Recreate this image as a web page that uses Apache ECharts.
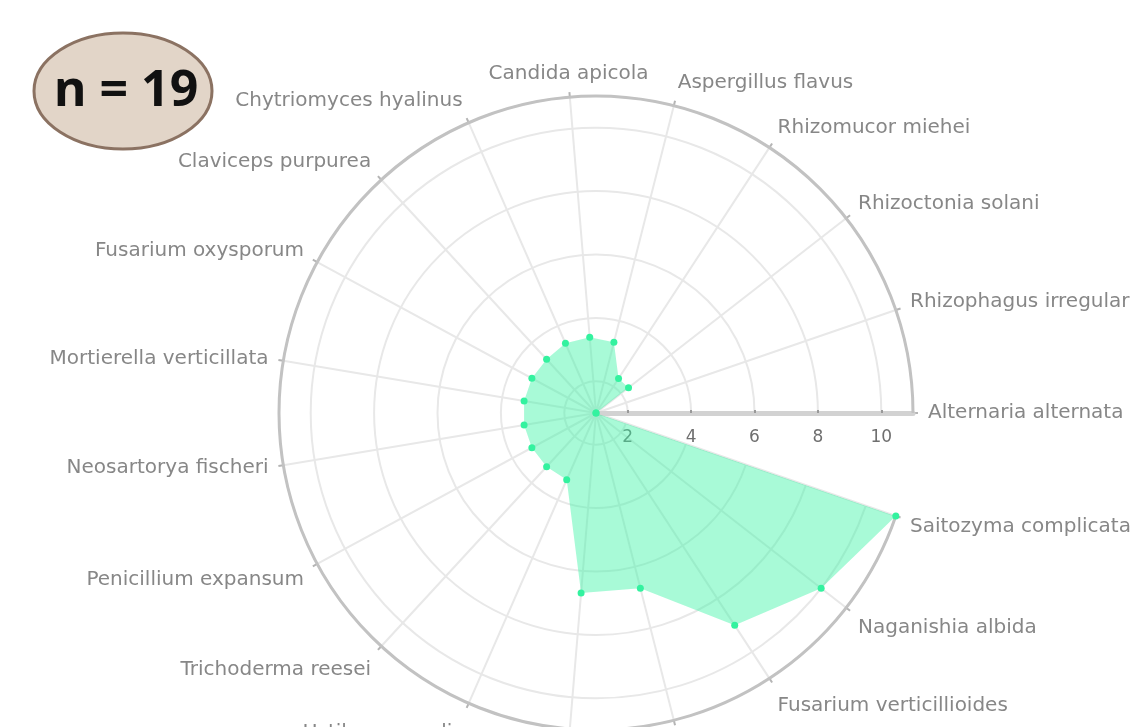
<!DOCTYPE html>
<html>
<head>
<meta charset="utf-8">
<title>Polar profile</title>
<script src="https://cdn.jsdelivr.net/npm/echarts@6/dist/echarts.min.js"></script>
<style>
  html, body { margin: 0; padding: 0; background: #ffffff; }
  #chart { width: 1130px; height: 727px; }
</style>
</head>
<body>
<div id="chart"></div>
<script>
// Species placed counter-clockwise around the circle, starting at 3 o'clock
const species = [
  'Alternaria alternata',
  'Rhizophagus irregularis',
  'Rhizoctonia solani',
  'Rhizomucor miehei',
  'Aspergillus flavus',
  'Candida apicola',
  'Chytriomyces hyalinus',
  'Claviceps purpurea',
  'Fusarium oxysporum',
  'Mortierella verticillata',
  'Neosartorya fischeri',
  'Penicillium expansum',
  'Trichoderma reesei',
  'Ustilago maydis',
  'Verticillium dahliae',
  'Yarrowia lipolytica',
  'Fusarium verticillioides',
  'Naganishia albida',
  'Saitozyma complicata'
];

// Score per species
const scores = [1, 1, 2.3, 2.3, 3.3, 3.4, 3.4, 3.3, 3.3, 3.3, 3.3, 3.3, 3.3, 3.3, 6.7, 6.7, 9, 10, 11];

// Sample count shown in the badge
const sampleCount = 19;

// Labels that start at their spoke instead of being centred on it
const leftStartLabels = ['Aspergillus flavus'];

const labelFont = 'DejaVu Sans';
const labelSize = 20;

// Width of a label in the axis font
function textWidth(str) {
  const ctx = document.createElement('canvas').getContext('2d');
  ctx.font = labelSize + 'px "' + labelFont + '"';
  return Math.ceil(ctx.measureText(str).width);
}

// One rich style per label: the line height eases each label towards its spoke
// the closer the spoke is to vertical, and a left pad makes chosen labels start at the spoke.
const richStyles = {};
species.forEach(function (name, i) {
  const theta = i * 2 * Math.PI / species.length;
  const s = Math.sin(theta);
  const style = {};
  if (Math.abs(s) >= 0.3) {
    style.lineHeight = Math.max(4, Math.round((s > 0 ? 17 : 35) * Math.abs(s)));
  }
  if (leftStartLabels.indexOf(name) >= 0) {
    style.padding = [0, 0, 0, textWidth(name)];
  }
  richStyles['c' + i] = style;
});

const chart = echarts.init(document.getElementById('chart'), null, { renderer: 'canvas' });

chart.setOption({
  backgroundColor: '#ffffff',
  animation: false,
  polar: {
    center: [596, 413],
    radius: 317
  },
  angleAxis: {
    type: 'category',
    data: species,
    startAngle: 0,
    clockwise: false,
    boundaryGap: false,
    axisLine: { show: true, lineStyle: { color: '#c2c2c2', width: 3 } },
    axisTick: { show: true, interval: 0, length: 5, lineStyle: { color: '#b5b5b5', width: 2 } },
    axisLabel: {
      show: true,
      interval: 0,
      hideOverlap: false,
      margin: 15,
      color: '#878787',
      fontSize: labelSize,
      fontFamily: labelFont,
      formatter: function (value) {
        return '{c' + species.indexOf(value) + '|' + value + '}';
      },
      rich: richStyles
    },
    splitLine: { show: true, interval: 0, lineStyle: { color: '#e8e8e8', width: 2 } }
  },
  radiusAxis: {
    type: 'value',
    min: 'dataMin',
    max: 'dataMax',
    splitNumber: 5,
    axisLine: { show: true, lineStyle: { color: '#d2d2d2', width: 5 } },
    axisTick: { show: true, length: 3, lineStyle: { color: '#999999', width: 2 } },
    axisLabel: {
      show: true,
      showMinLabel: false,
      showMaxLabel: false,
      color: '#6f6f6f',
      fontSize: 17,
      fontFamily: labelFont,
      margin: -33
    },
    splitLine: { show: true, lineStyle: { color: '#e8e8e8', width: 2 } }
  },
  series: [{
    type: 'line',
    coordinateSystem: 'polar',
    data: scores,
    symbol: 'circle',
    symbolSize: 7,
    itemStyle: { color: '#33f29f' },
    lineStyle: { width: 0, opacity: 0 },
    areaStyle: { color: '#3df5a7', opacity: 0.45 },
    z: 2
  }],
  graphic: [
    {
      type: 'ellipse',
      shape: { cx: 123, cy: 91, rx: 89, ry: 58 },
      style: { fill: '#e2d5c8', stroke: '#8b7262', lineWidth: 3 },
      z: 10
    },
    {
      type: 'text',
      x: 126,
      y: 92,
      style: {
        text: 'n = ' + sampleCount,
        fill: '#111111',
        font: 'bold 50px "Open Sans", sans-serif',
        align: 'center',
        verticalAlign: 'middle'
      },
      z: 11
    }
  ]
});
</script>
</body>
</html>
